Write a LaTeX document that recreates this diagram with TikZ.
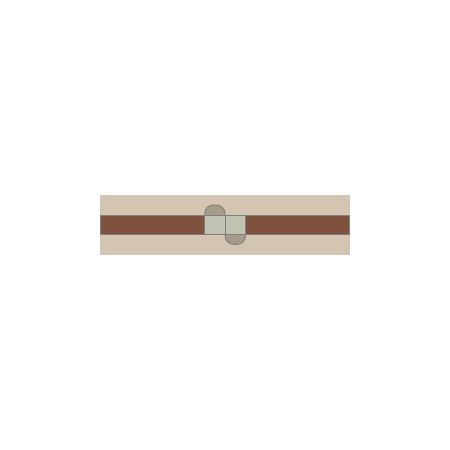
\documentclass[tikz,border=0pt]{standalone}
\definecolor{tan}{HTML}{D3C5B2}
\definecolor{strap}{HTML}{7F513F}
\definecolor{pad}{HTML}{C0C3AF}
\definecolor{tab}{HTML}{A89A88}
\definecolor{edge}{HTML}{808080}
\tikzset{
  part/.style={draw=edge, line width=0.9pt},
  tabpart/.style={part, fill=tab, rounded corners=8.5pt}
}
\begin{document}
\begin{tikzpicture}[x=1pt,y=-1pt]
\useasboundingbox (0,0) rectangle (450,450);
\fill[tan] (100,195) rectangle (350,255);

% tabs
\draw[tabpart] (204.7,225) rectangle (225,205);
\draw[tabpart] (225,225) rectangle (245.5,244.3);

% strap
\draw[part, fill=strap] (100.5,215.5) rectangle (349.5,234.3);

% joint
\draw[part, fill=pad] (204.7,215.5) rectangle (225,234.3);
\draw[part, fill=pad] (225,215.5) rectangle (245.5,234.3);
\end{tikzpicture}
\end{document}
